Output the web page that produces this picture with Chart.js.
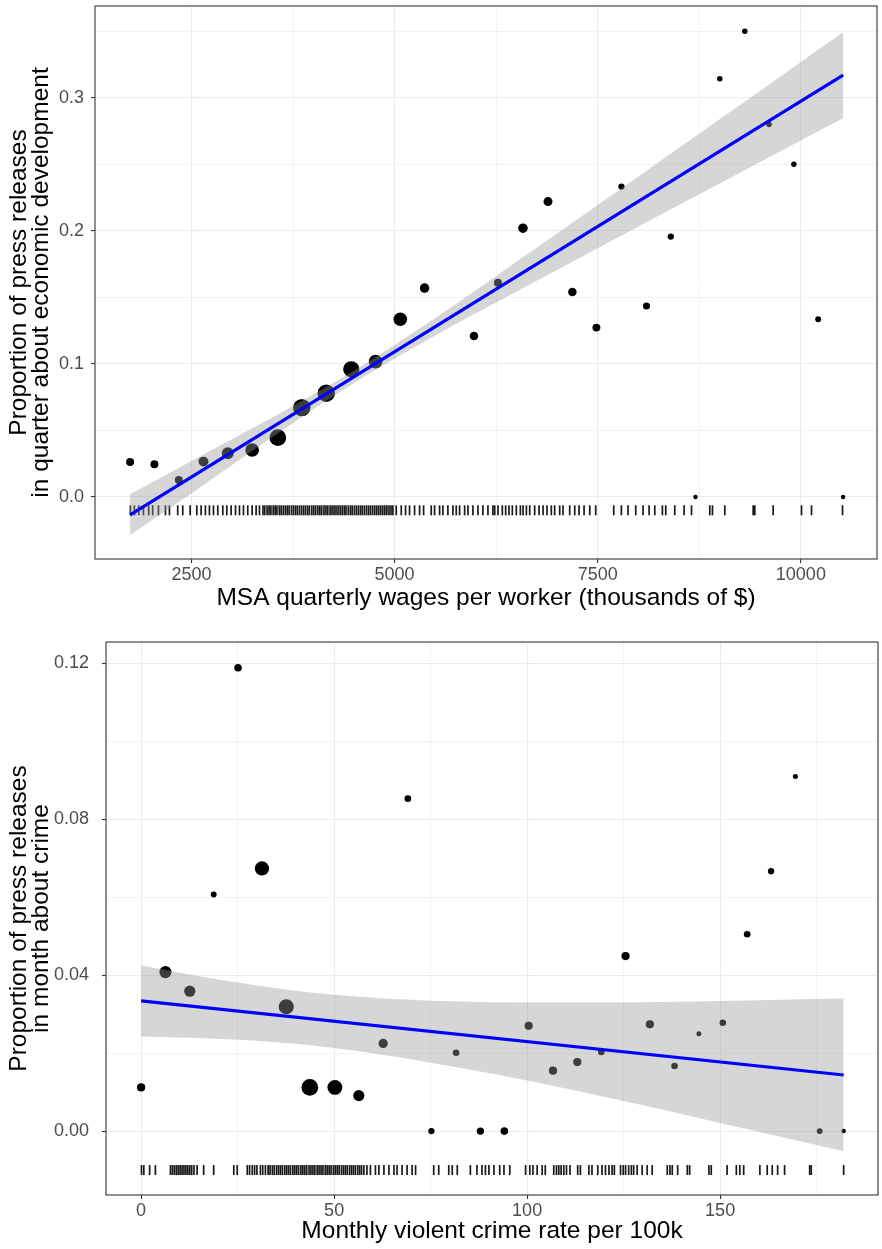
<!DOCTYPE html>
<html>
<head>
<meta charset="utf-8">
<script src="https://cdn.jsdelivr.net/npm/chart.js@4.4.1/dist/chart.umd.min.js"></script>
<style>
  html, body { margin: 0; padding: 0; background: #fff; overflow: hidden; }
  #wrap { position: relative; width: 882px; height: 1249px; }
  .panel { position: absolute; left: 0; width: 882px; }
  #topPanel { top: 0; height: 615px; }
  #bottomPanel { top: 615px; height: 634px; }
</style>
</head>
<body>
<div id="wrap">
  <div class="panel" id="topPanel"><canvas id="wageChart"></canvas></div>
  <div class="panel" id="bottomPanel"><canvas id="crimeChart"></canvas></div>
</div>
<script>
// ---- Top panel: wages vs. share of releases about economic development ----
const wageX = [1745, 2044, 2344, 2648, 2947, 3247, 3563, 3858, 4159, 4467, 4766, 5070, 5369, 5977, 6272,
               6580, 6888, 7188, 7484, 7792, 8100, 8399, 8703, 9002, 9310, 9609, 9914, 10213, 10520];
const wageY = [0.0263, 0.0246, 0.0128, 0.0266, 0.0328, 0.0353, 0.0446, 0.0672, 0.078, 0.096, 0.1017, 0.1336, 0.157, 0.121, 0.161,
               0.202, 0.222, 0.154, 0.1273, 0.2333, 0.1436, 0.1957, 0, 0.3143, 0.350, 0.280, 0.250, 0.1336, 0];
// number of releases behind each binned point (drives point area)
const wageN = [12, 12, 12, 20, 30, 40, 62, 67, 67, 58, 40, 40, 18, 14, 12,
               18, 16, 14, 12, 7, 9, 7, 3, 5, 5, 5, 5, 6, 3];
const wageFitX = [1745, 10520];
const wageFitY = [-0.0135, 0.317];
const wageBandX = [1745, 2500, 3500, 4500, 5500, 6500, 7500, 8500, 9500, 10520];
const wageBandHi = [0.0020, 0.0271, 0.0600, 0.0949, 0.1345, 0.1768, 0.2194, 0.2624, 0.3054, 0.3493];
const wageBandLo = [-0.0285, 0.0027, 0.0452, 0.0857, 0.1213, 0.1544, 0.1870, 0.2194, 0.2518, 0.2847];
const wageRug = [1749, 1798, 1851, 1909, 1974, 2023, 2094, 2180, 2229, 2331, 2393, 2484, 2566, 2619, 2672, 2721,
  2771, 2824, 2886, 2935, 2988, 3042, 3091, 3140, 3193, 3247, 3296, 3337,
  3380, 3402, 3431, 3455, 3478, 3506, 3530, 3552, 3581, 3604, 3630, 3655, 3679, 3702, 3731, 3755, 3780, 3803,
  3829, 3855, 3880, 3904, 3930, 3952, 3981, 4005, 4029, 4056, 4080, 4103, 4131, 4155, 4178, 4206, 4230, 4255,
  4279, 4304, 4330, 4355, 4380, 4402, 4430, 4456, 4478, 4505, 4530, 4555, 4580, 4603, 4629, 4655, 4680, 4704,
  4730, 4756, 4781, 4805, 4830, 4855, 4880, 4905, 4931, 4956, 4979,
  5020, 5082, 5135, 5184, 5246, 5308, 5357, 5451, 5492, 5554, 5595, 5656, 5718, 5759, 5800, 5862, 5903, 5964,
  6026, 6087, 6149, 6210, 6232, 6273, 6326, 6367, 6408, 6449, 6498, 6548, 6581, 6622, 6663, 6724, 6778, 6827,
  6876, 6929, 6970, 7032, 7073, 7155, 7217, 7270, 7332, 7402, 7475, 7697, 7791, 7873, 7968, 8058, 8132, 8202,
  8296, 8337, 8448, 8563, 8654, 8879, 8912, 9064, 9413, 9433, 9659, 10008, 10131, 10513];
const wageXMajor = [2500, 5000, 7500, 10000];
const wageXMinor = [3750, 6250, 8750];
const wageXLabels = ['2500', '5000', '7500', '10000'];
const wageYMajor = [0, 0.1, 0.2, 0.3];
const wageYMinor = [0.05, 0.15, 0.25, 0.35];
const wageYLabels = ['0.0', '0.1', '0.2', '0.3'];

// ---- Bottom panel: violent crime vs. share of releases about crime ----
const crimeX = [0, 6.3, 12.6, 18.8, 25.1, 31.3, 37.6, 43.7, 50.2, 56.4, 62.7, 69.1, 75.2, 81.6, 87.9,
                94.1, 100.4, 106.7, 113.0, 119.2, 125.5, 131.8, 138.2, 144.5, 150.7, 157.0, 163.2, 169.5, 175.8, 182.0];
const crimeY = [0.0112, 0.0408, 0.0359, 0.0607, 0.1189, 0.0674, 0.0319, 0.0112, 0.0112, 0.0091, 0.0225, 0.0853, 0, 0.0201, 0,
                0, 0.027, 0.0155, 0.0177, 0.0203, 0.0449, 0.0274, 0.0167, 0.025, 0.0278, 0.0505, 0.0667, 0.091, 0, 0];
const crimeN = [13, 31, 26, 6, 11, 44, 50, 62, 48, 26, 17, 8, 7, 8, 10,
                11, 13, 13, 13, 8, 13, 13, 8, 4, 8, 8, 7, 4, 6, 3];
const crimeFitX = [0, 182];
const crimeFitY = [0.0334, 0.0144];
const crimeBandX = [0, 20, 40, 60, 80, 100, 120, 140, 160, 182];
const crimeBandHi = [0.0425, 0.0389, 0.0360, 0.0342, 0.0333, 0.0330, 0.0330, 0.0332, 0.0336, 0.0340];
const crimeBandLo = [0.0243, 0.0237, 0.0224, 0.0200, 0.0167, 0.0130, 0.0088, 0.0044, -0.0002, -0.0052];
const crimeRug = [0.1, 0.7, 2.2, 3.7, 7.6, 8.1, 8.6, 9.1, 9.6, 10.1, 10.6, 11.1, 11.6, 12.1, 12.6, 13.1, 13.7, 14.5,
  16.2, 18.8, 24.0, 24.9, 27.5, 28.1, 28.8, 29.4, 30.0,
  30.9, 31.5, 32.2, 32.9, 33.4, 34.0, 34.5, 35.1, 35.6, 36.1, 36.6, 37.2, 37.7, 38.2, 38.7, 39.3, 39.8, 40.3,
  40.8, 41.4, 41.9, 42.4, 42.9, 43.5, 44.0, 44.5, 45.0, 45.6, 46.1, 46.6, 47.1, 47.7, 48.2, 48.7, 49.2, 49.8,
  50.3, 50.8, 51.3, 51.9, 52.4, 52.9, 53.4, 54.0, 54.5, 55.0, 55.5, 56.1, 56.6, 57.1, 57.7,
  58.5, 59.4, 60.7, 61.6, 62.9, 64.2, 65.5, 66.3, 67.6, 68.9, 70.2, 71.1, 75.8, 77.1, 79.7, 80.6, 81.9, 85.3,
  87.0, 88.3, 89.2, 90.1, 91.4, 92.9, 94.0, 95.5, 99.6, 100.7, 101.5, 102.6, 103.9, 104.7, 106.9, 107.6, 108.2,
  108.8, 109.5, 110.2, 111.1, 113.1, 113.8, 116.0, 116.8, 118.3, 119.4, 120.3, 121.2, 122.0, 122.6, 124.2,
  124.9, 125.5, 126.3, 127.0, 127.6, 128.5, 129.8, 131.1, 132.4, 136.3, 137.0, 137.6, 139.0, 141.5, 142.1,
  147.1, 147.7, 151.8, 154.2, 155.1, 156.1, 160.3, 162.2, 163.5, 164.9, 166.7, 173.2, 173.6, 182.0];
const crimeXMajor = [0, 50, 100, 150];
const crimeXMinor = [25, 75, 125, 175];
const crimeXLabels = ['0', '50', '100', '150'];
const crimeYMajor = [0, 0.04, 0.08, 0.12];
const crimeYMinor = [0.02, 0.06, 0.10];
const crimeYLabels = ['0.00', '0.04', '0.08', '0.12'];

const RUG_Y = -0.01;
const FONT = '"Liberation Sans", Arial, Helvetica, sans-serif';

// ggplot-like panel border drawn over everything
const panelBorder = {
    id: 'panelBorder',
    afterDraw(chart) {
        const { ctx, chartArea: a } = chart;
        ctx.save();
        ctx.strokeStyle = '#444';
        ctx.lineWidth = 1.2;
        ctx.strokeRect(a.left, a.top, a.right - a.left, a.bottom - a.top);
        ctx.restore();
    }
};

function pairs(xs, ys) {
    return xs.map((x, i) => ({ x: x, y: ys[i] }));
}

function makeAxis(cfg) {
    const isMajor = v => cfg.major.includes(v);
    return {
        type: 'linear',
        position: cfg.position,
        min: cfg.min,
        max: cfg.max,
        bounds: 'data',
        afterBuildTicks: function (scale) {
            scale.ticks = cfg.major.concat(cfg.minor).sort((a, b) => a - b).map(v => ({ value: v }));
        },
        afterFit: function (scale) {
            if (cfg.position === 'left') scale.width = cfg.size;
            else scale.height = cfg.size;
            // no extra room for label overhang, the layout padding fixes the panel
            scale.paddingTop = 0;
            scale.paddingBottom = 0;
            scale.paddingLeft = 0;
            scale.paddingRight = 0;
        },
        border: { display: false },
        grid: {
            color: '#ebebeb',
            lineWidth: ctx => (ctx.tick && isMajor(ctx.tick.value)) ? 1.1 : 0.6,
            tickColor: ctx => (ctx.tick && isMajor(ctx.tick.value)) ? '#333333' : 'rgba(0,0,0,0)',
            tickLength: 4,
            drawTicks: true
        },
        ticks: {
            autoSkip: false,
            maxRotation: 0,
            minRotation: 0,
            padding: cfg.tickPadding,
            color: '#4d4d4d',
            font: { family: FONT, size: 18 },
            callback: function (v) {
                const i = cfg.major.indexOf(v);
                return i >= 0 ? cfg.labels[i] : '';
            }
        },
        title: {
            display: true,
            text: cfg.title,
            color: '#000000',
            font: { family: FONT, size: 24.5, lineHeight: 0.9 },
            padding: cfg.titlePadding
        }
    };
}

function makePanel(canvasId, d) {
    const ctx = document.getElementById(canvasId).getContext('2d');
    return new Chart(ctx, {
        type: 'scatter',
        data: {
            datasets: [
                {
                    type: 'line',
                    data: pairs(d.fitX, d.fitY),
                    borderColor: '#0000ff',
                    borderWidth: 3.2,
                    pointRadius: 0,
                    fill: false,
                    order: 0
                },
                {
                    type: 'line',
                    data: pairs(d.bandX, d.bandLo),
                    borderColor: 'rgba(0,0,0,0)',
                    borderWidth: 0,
                    pointRadius: 0,
                    cubicInterpolationMode: 'monotone',
                    fill: false,
                    order: 2
                },
                {
                    type: 'line',
                    data: pairs(d.bandX, d.bandHi),
                    borderColor: 'rgba(0,0,0,0)',
                    borderWidth: 0,
                    pointRadius: 0,
                    cubicInterpolationMode: 'monotone',
                    backgroundColor: 'rgba(153,153,153,0.4)',
                    fill: '-1',
                    order: 1
                },
                {
                    data: pairs(d.x, d.y),
                    backgroundColor: '#000000',
                    borderWidth: 0,
                    pointRadius: d.n.map(n => Math.sqrt(n) + 0.5),
                    order: 3
                },
                {
                    data: d.rug.map(x => ({ x: x, y: RUG_Y })),
                    pointStyle: 'line',
                    rotation: 90,
                    pointRadius: 5,
                    borderColor: 'rgba(0,0,0,0.9)',
                    borderWidth: 1.7,
                    order: 4
                }
            ]
        },
        options: {
            responsive: true,
            maintainAspectRatio: false,
            animation: false,
            events: [],
            layout: { padding: d.padding, autoPadding: false },
            plugins: {
                legend: { display: false },
                tooltip: { enabled: false }
            },
            scales: {
                x: makeAxis(d.xAxis),
                y: makeAxis(d.yAxis)
            }
        },
        plugins: [panelBorder]
    });
}

document.addEventListener('DOMContentLoaded', function () {
    makePanel('wageChart', {
        x: wageX, y: wageY, n: wageN, rug: wageRug,
        fitX: wageFitX, fitY: wageFitY,
        bandX: wageBandX, bandHi: wageBandHi, bandLo: wageBandLo,
        padding: { top: 6, right: 5, left: 0, bottom: 0 },
        xAxis: {
            position: 'bottom', min: 1313, max: 10937, size: 56, tickPadding: 1,
            major: wageXMajor, minor: wageXMinor, labels: wageXLabels,
            title: 'MSA quarterly wages per worker (thousands of $)',
            titlePadding: { top: 0, bottom: 6 }
        },
        yAxis: {
            position: 'left', min: -0.0466, max: 0.369, size: 95, tickPadding: 7,
            major: wageYMajor, minor: wageYMinor, labels: wageYLabels,
            title: ['Proportion of press releases', 'in quarter about economic development'],
            titlePadding: { top: 8, bottom: 0 }
        }
    });

    makePanel('crimeChart', {
        x: crimeX, y: crimeY, n: crimeN, rug: crimeRug,
        fitX: crimeFitX, fitY: crimeFitY,
        bandX: crimeBandX, bandHi: crimeBandHi, bandLo: crimeBandLo,
        padding: { top: 27, right: 4, left: 0, bottom: 0 },
        xAxis: {
            position: 'bottom', min: -9.1, max: 190.9, size: 54, tickPadding: 1,
            major: crimeXMajor, minor: crimeXMinor, labels: crimeXLabels,
            title: 'Monthly violent crime rate per 100k',
            titlePadding: { top: 0, bottom: 7 }
        },
        yAxis: {
            position: 'left', min: -0.0164, max: 0.1255, size: 106, tickPadding: 13,
            major: crimeYMajor, minor: crimeYMinor, labels: crimeYLabels,
            title: ['Proportion of press releases', 'in month about crime'],
            titlePadding: { top: 8, bottom: 0 }
        }
    });
});
</script>
</body>
</html>
